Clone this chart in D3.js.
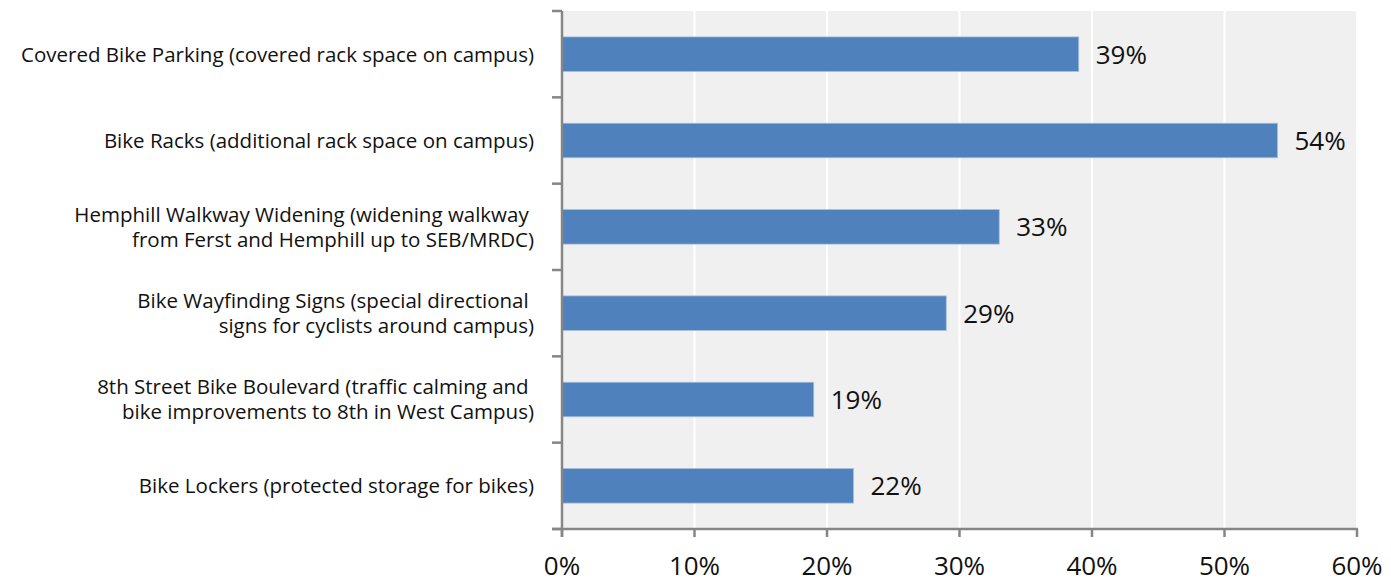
<!DOCTYPE html>
<html>
<head>
<meta charset="utf-8">
<script src="https://cdn.jsdelivr.net/npm/d3@7"></script>
<style>
  html, body { margin: 0; padding: 0; background: #fff; }
  svg { display: block; }
  text { font-family: "Open Sans", "Noto Sans", sans-serif; fill: #111; white-space: pre; }
</style>
</head>
<body>
<svg id="chart" width="1391" height="585"></svg>
<script>
// Survey results: share of respondents supporting each bike facility
const categories = [
  ["Covered Bike Parking (covered rack space on campus)"],
  ["Bike Racks (additional rack space on campus)"],
  ["Hemphill Walkway Widening (widening walkway ", "from Ferst and Hemphill up to SEB/MRDC)"],
  ["Bike Wayfinding Signs (special directional ", "signs for cyclists around campus)"],
  ["8th Street Bike Boulevard (traffic calming and ", "bike improvements to 8th in West Campus)"],
  ["Bike Lockers (protected storage for bikes)"]
];
const values = [39, 54, 33, 29, 19, 22];
const xTicks = [0, 10, 20, 30, 40, 50, 60];

const margin = { left: 562, right: 34, top: 11, bottom: 56 };
const W = 1391, H = 585;
const innerW = W - margin.left - margin.right;
const innerH = H - margin.top - margin.bottom;

const svg = d3.select("#chart");
const g = svg.append("g").attr("transform", `translate(${margin.left},${margin.top})`);

const x = d3.scaleLinear().domain([0, 60]).range([0, innerW]);
const y = d3.scaleBand().domain(d3.range(categories.length)).range([0, innerH]).paddingInner(0.6).paddingOuter(0.3);

// plot background
g.append("rect").attr("width", innerW).attr("height", innerH).attr("fill", "#f0f0f0");

// vertical gridlines
g.selectAll(".grid").data(xTicks.slice(1)).enter().append("line")
  .attr("x1", d => x(d)).attr("x2", d => x(d))
  .attr("y1", 0).attr("y2", innerH)
  .attr("stroke", "#ffffff").attr("stroke-width", 2);

// bars
g.selectAll(".bar").data(values).enter().append("rect")
  .attr("x", 0)
  .attr("y", (d, i) => y(i))
  .attr("width", d => x(d))
  .attr("height", y.bandwidth())
  .attr("fill", "#4f81bd")
  .attr("stroke", "#a9bfdc").attr("stroke-width", 0.8);

// value labels
g.selectAll(".val").data(values).enter().append("text")
  .attr("x", d => x(d) + 17)
  .attr("y", (d, i) => y(i) + y.bandwidth() / 2)
  .attr("dy", "0.36em")
  .attr("font-size", 26)
  .text(d => d + "%");

// category axis line and ticks at band boundaries
const step = innerH / categories.length;
g.append("line").attr("x1", 0).attr("x2", 0).attr("y1", 0).attr("y2", innerH + 8)
  .attr("stroke", "#868686").attr("stroke-width", 2.5);
g.selectAll(".ytick").data(d3.range(categories.length + 1)).enter().append("line")
  .attr("x1", -10).attr("x2", 0)
  .attr("y1", i => i * step).attr("y2", i => i * step)
  .attr("stroke", "#868686").attr("stroke-width", 2.5);

// category labels
categories.forEach((lines, i) => {
  const cy = y(i) + y.bandwidth() / 2;
  const lh = 25;
  const t = g.append("text")
    .attr("text-anchor", "end")
    .attr("font-size", 20.5);
  lines.forEach((ln, k) => {
    t.append("tspan")
      .attr("x", -28)
      .attr("y", cy + (k - (lines.length - 1) / 2) * lh)
      .attr("dy", "0.36em")
      .text(ln);
  });
});

// value axis
g.append("line").attr("x1", -10).attr("x2", innerW + 1).attr("y1", innerH).attr("y2", innerH)
  .attr("stroke", "#868686").attr("stroke-width", 2.5);
g.selectAll(".xtick").data(xTicks).enter().append("line")
  .attr("x1", d => x(d)).attr("x2", d => x(d))
  .attr("y1", innerH).attr("y2", innerH + 8)
  .attr("stroke", "#868686").attr("stroke-width", 2.5);
g.selectAll(".xlab").data(xTicks).enter().append("text")
  .attr("x", d => x(d))
  .attr("y", innerH + 46)
  .attr("text-anchor", "middle")
  .attr("font-size", 26)
  .text(d => d + "%");
</script>
</body>
</html>
